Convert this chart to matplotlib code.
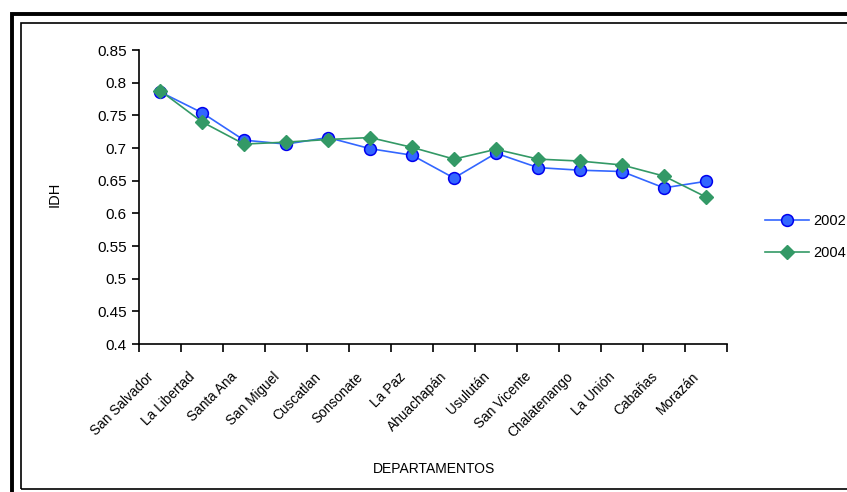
import numpy as np
import matplotlib.pyplot as plt
import matplotlib.transforms as mtransforms
from matplotlib.patches import Rectangle

plt.rcParams['font.family'] = ['Liberation Sans', 'DejaVu Sans']

# datos IDH por departamento
departamentos = ['San Salvador', 'La Libertad', 'Santa Ana', 'San Miguel', 'Cuscatlan',
                 'Sonsonate', 'La Paz', 'Ahuachapán', 'Usulután', 'San Vicente',
                 'Chalatenango', 'La Unión', 'Cabañas', 'Morazán']
idh_2002 = [0.786, 0.754, 0.712, 0.706, 0.716, 0.699, 0.689, 0.654, 0.692, 0.670,
            0.666, 0.664, 0.639, 0.649]
idh_2004 = [0.788, 0.740, 0.706, 0.709, 0.713, 0.716, 0.701, 0.683, 0.698, 0.683,
            0.680, 0.674, 0.657, 0.625]
yticks = [0.4, 0.45, 0.5, 0.55, 0.6, 0.65, 0.7, 0.75, 0.8, 0.85]
ytick_labels = ['0.4', '0.45', '0.5', '0.55', '0.6', '0.65', '0.7', '0.75', '0.8', '0.85']

fig = plt.figure(figsize=(8.47, 4.92), dpi=100)
fig.patch.set_facecolor('white')

# marcos
fig.patches.append(Rectangle((11.5/847, -0.05), 1.1, 1 - 13.5/492 + 0.05, transform=fig.transFigure,
                             fill=False, edgecolor='black', linewidth=2.8, zorder=0))
fig.patches.append(Rectangle((20.5/847, 1 - 489/492), 1.1, (489 - 22.5)/492, transform=fig.transFigure,
                             fill=False, edgecolor='black', linewidth=1.2, zorder=0))

ax = fig.add_axes([139/847, 1 - 344/492, (727 - 139)/847, (344 - 50)/492])
ax.set_facecolor('none')

x = np.arange(len(departamentos))
ax.plot(x, idh_2002, color='#3366FF', linewidth=1.2, marker='o', markersize=8.5,
        markerfacecolor='#3366FF', markeredgecolor='#0000EE', markeredgewidth=1.1,
        label='2002', zorder=3)
ax.plot(x, idh_2004, color='#339966', linewidth=1.2, marker='D', markersize=7.5,
        markerfacecolor='#339966', markeredgecolor='#339966', label='2004', zorder=4)

ax.set_xlim(-0.5, len(departamentos) - 0.5)
ax.set_ylim(0.4, 0.85)
ax.set_yticks(yticks)
ax.set_yticklabels(ytick_labels, fontsize=11)

ax.set_xticks(x)
ax.set_xticklabels(departamentos, fontsize=9.8, rotation=45, ha='right', va='center',
                   rotation_mode='anchor')
ax.set_xticks(np.arange(-0.5, len(departamentos)), minor=True)
ax.tick_params(axis='x', which='major', length=0, pad=22)
ax.tick_params(axis='x', which='minor', length=6, width=1.2, direction='out')
ax.tick_params(axis='y', length=5, width=1.2, direction='out', pad=4)
offset = mtransforms.ScaledTranslation(-9/100, 0, fig.dpi_scale_trans)
for lbl in ax.get_xticklabels():
    lbl.set_transform(lbl.get_transform() + offset)

for s in ['top', 'right']:
    ax.spines[s].set_visible(False)
for s in ['left', 'bottom']:
    ax.spines[s].set_linewidth(1.2)

fig.text(55/847, 1 - 194/492, 'IDH', fontsize=10.5, rotation=90, ha='center', va='center')
fig.text(434/847, 1 - 469/492, 'DEPARTAMENTOS', fontsize=10, ha='center', va='center')

ax.legend(loc='center left', bbox_to_anchor=(752/847, 1 - 237/492), bbox_transform=fig.transFigure,
          frameon=False, fontsize=10.5, handlelength=3, handletextpad=0.3, labelspacing=1.2)

fig.savefig('out.png', dpi=100)
